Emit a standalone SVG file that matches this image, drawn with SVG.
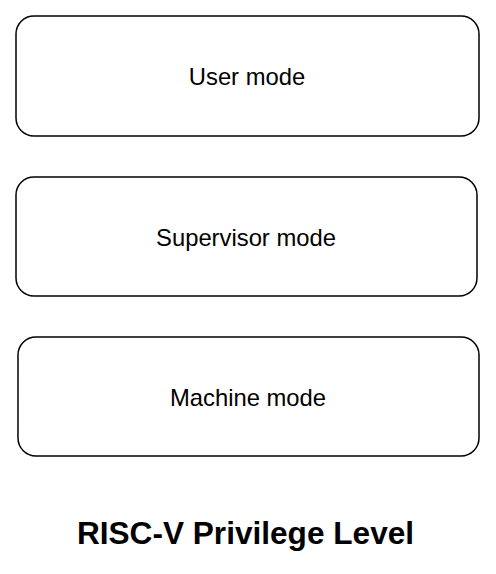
<svg xmlns="http://www.w3.org/2000/svg" width="496" height="574" viewBox="0 0 496 574">
<style>
.box{fill:#ffffff;stroke:#000000;stroke-width:1.5}
.lbl{font-family:"Liberation Sans",Arial,sans-serif;font-size:23.8px;fill:#000000;text-anchor:middle}
.title{font-family:"Liberation Sans",Arial,sans-serif;font-size:31.6px;font-weight:bold;fill:#000000;text-anchor:middle}
</style>
<rect width="496" height="574" fill="#ffffff"/>
<g id="connectors"></g>
<g id="user-mode">
<rect class="box" x="16" y="16" width="463" height="120" rx="18" ry="18"/>
<text class="lbl" x="247" y="85">User mode</text>
</g>
<g id="supervisor-mode">
<rect class="box" x="16" y="177" width="461" height="119" rx="18" ry="18"/>
<text class="lbl" x="246" y="245.5">Supervisor mode</text>
</g>
<g id="machine-mode">
<rect class="box" x="18" y="337" width="461" height="119" rx="18" ry="18"/>
<text class="lbl" x="248" y="405.5">Machine mode</text>
</g>
<g id="title">
<text class="title" x="245.5" y="544">RISC-V Privilege Level</text>
</g>
</svg>
